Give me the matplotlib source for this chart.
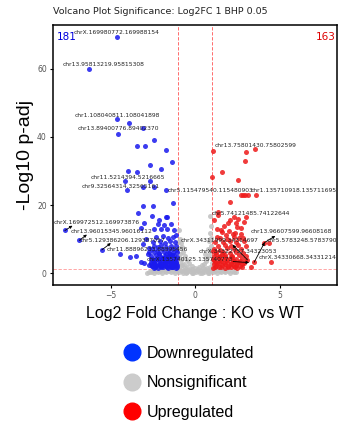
import numpy as np
import matplotlib
matplotlib.use("Agg")
import matplotlib.pyplot as plt
from matplotlib.lines import Line2D

# ---- data ----
blue_x = [-4.63, -6.30, -4.59, -3.88, -4.53, -3.09, -2.42, -3.45, -2.98, -1.71,
          -1.36, -2.64, -2.03, -3.96, -3.45, -4.16, -2.64, -4.00, -3.05, -2.45,
          -1.71, -1.32, -3.05, -2.46, -3.39, -2.52, -1.74, -1.65, -2.13, -2.99,
          -2.21, -1.85, -1.42, -3.19, -2.42, -2.03, -1.64, -1.26, -7.70, -6.85,
          -5.52, -4.43, -3.84, -3.51, -3.19, -3.10, -2.90, -2.75, -2.80, -2.60,
          -3.00, -2.70,
          -2.30, -1.90, -1.60, -1.30, -1.10,
          -2.50, -2.10, -1.80, -1.50, -1.20,
          -2.40, -2.00, -1.70, -1.45, -1.15, -2.20,
          -2.55, -2.25, -1.95, -1.60, -1.35, -1.10,
          -2.45, -2.15, -1.85, -1.55, -1.30, -1.05, -2.70,
          -2.60, -2.30, -2.00, -1.75, -1.50, -1.25, -1.05,
          -2.50, -2.20, -1.90, -1.65, -1.40, -1.15,
          -2.45, -2.15, -1.85, -1.60, -1.35, -1.10,
          -2.35, -2.05, -1.80, -1.55, -1.30, -1.05, -2.60,
          -2.30, -2.00, -1.70, -1.45, -1.20, -2.55,
          -2.20, -1.90, -1.60, -1.35, -1.10, -2.45,
          -2.05, -1.75, -1.40, -1.20, -1.95, -1.50,
          -2.35, -2.00, -1.65, -1.30, -1.08, -2.28, -1.88, -1.52, -1.18,
          -2.42, -2.10, -1.78, -1.42, -1.12, -2.38, -1.98, -1.68, -1.28,
          -2.25, -1.92, -1.58, -1.22, -2.15, -1.72, -1.38, -2.62, -2.52]
blue_y = [69.4, 59.9, 45.2, 44.2, 41.0, 42.5, 39.1, 37.5, 37.4, 36.1,
          32.6, 31.8, 30.7, 30.0, 29.6, 27.2, 27.2, 24.4, 25.2, 25.3,
          24.6, 20.7, 19.9, 19.9, 17.8, 16.8, 16.6, 16.5, 15.6, 14.9,
          14.5, 14.2, 14.5, 13.3, 12.9, 12.9, 12.9, 12.7, 12.6, 9.7,
          6.9, 5.6, 4.9, 5.1, 3.5, 8.6, 10.2, 7.5, 5.8, 4.2,
          3.0, 2.6,
          10.6, 11.1, 10.3, 10.8, 11.4,
          9.2, 9.5, 9.0, 9.4, 9.1,
          8.1, 8.3, 7.9, 8.2, 8.0, 7.7,
          7.1, 6.9, 7.3, 7.0, 7.2, 6.8,
          6.2, 6.0, 6.3, 6.1, 5.9, 6.2, 6.4,
          5.1, 5.3, 4.9, 5.2, 5.0, 5.3, 4.8,
          4.3, 4.1, 4.4, 4.2, 4.0, 4.3,
          3.5, 3.6, 3.4, 3.7, 3.5, 3.3,
          2.8, 2.9, 2.7, 3.0, 2.8, 2.6, 2.9,
          2.2, 2.3, 2.1, 2.2, 2.4, 2.1,
          1.7, 1.8, 1.6, 1.8, 1.7, 1.6,
          2.5, 3.1, 1.9, 3.9, 4.6, 5.6,
          1.95, 2.0, 1.9, 2.0, 1.95, 2.55, 2.5, 2.6, 2.45,
          3.2, 3.15, 3.25, 3.1, 3.0, 3.9, 3.95, 3.85, 3.8,
          4.65, 4.6, 4.7, 4.55, 5.6, 5.7, 5.5, 3.3, 2.2]

grey_x = [-2.70, -2.45, -2.20, -1.95, -1.70, -1.45, -1.20, -0.95, -0.70, -0.45,
          -0.20, 0.05, 0.30, 0.55, 0.80, 1.05, 1.30, 1.55, 1.80, 2.05,
          -2.55, -2.30, -2.05, -1.80, -1.55, -1.30, -1.05, -0.80, -0.55, -0.30,
          -0.05, 0.20, 0.45, 0.70, 0.95, 1.20, 1.45, 1.70, 1.95, 2.20,
          -2.40, -2.10, -1.85, -1.60, -1.35, -1.10, -0.90, -0.65, -0.40, -0.15,
          0.10, 0.35, 0.60, 0.85, 1.10, 1.35, 1.60, 1.85,
          -0.95, -0.90, -0.85, -0.92, -0.78, -0.70, -0.88, -0.60, -0.75, -0.50,
          -0.90, -0.35, -0.65, -0.20, -0.85, -0.45, 0.00, 0.25, 0.40, 0.55,
          0.65, 0.72, 0.80, 0.60, 0.88, 0.75, 0.92, 0.82, 0.95, 0.90,
          0.86, 0.70, 0.90, -0.60, 0.15, -0.25, 0.50, -0.98, 0.97, -0.80,
          -2.85, -2.60, 2.30, 2.45, -0.10, 0.40, -0.55, 0.75, -1.00, 1.00]
grey_y = [0.3, 0.2, 0.3, 0.2, 0.4, 0.3, 0.2, 0.3, 0.2, 0.3,
          0.2, 0.3, 0.2, 0.3, 0.2, 0.3, 0.2, 0.4, 0.3, 0.2,
          0.7, 0.8, 0.6, 0.7, 0.8, 0.7, 0.6, 0.7, 0.8, 0.7,
          0.6, 0.7, 0.8, 0.7, 0.6, 0.7, 0.8, 0.6, 0.7, 0.8,
          1.1, 1.0, 1.2, 1.1, 1.0, 1.2, 1.1, 1.0, 1.1, 1.2,
          1.0, 1.1, 1.2, 1.1, 1.0, 1.1, 1.2, 1.0,
          12.6, 10.1, 8.9, 7.5, 7.8, 6.4, 5.6, 5.1, 4.3, 3.9,
          3.4, 3.0, 2.7, 2.2, 2.1, 1.8, 1.7, 1.9, 2.4, 2.9,
          3.6, 4.4, 5.3, 5.8, 6.5, 7.3, 8.2, 9.4, 10.5, 12.0,
          16.9, 1.6, 1.9, 1.5, 1.4, 1.45, 1.5, 9.3, 14.0, 2.6,
          0.2, 0.5, 0.4, 0.3, 0.05, 0.05, 0.05, 0.05, 4.8, 3.2]

red_x = [1.08, 2.99, 3.54, 2.97, 1.61, 1.00, 2.52, 2.72, 2.85, 2.98,
         3.11, 3.62, 2.07, 1.36, 1.73, 1.93, 2.42, 2.46, 2.91, 1.53,
         1.28, 2.22, 2.72, 2.81, 3.50, 4.09, 4.39, 4.49, 3.10, 2.30,
         2.55, 1.15, 1.38, 2.08, 3.01,
         1.50, 1.90, 2.30, 2.60,
         1.20, 1.65, 2.05, 2.45, 2.90,
         1.35, 1.75, 2.15, 2.55, 3.00,
         1.10, 1.50, 1.90, 2.30, 2.70,
         1.25, 1.65, 2.05, 2.45, 2.85, 1.05,
         1.15, 1.45, 1.80, 2.20, 2.60, 3.00,
         1.05, 1.35, 1.70, 2.05, 2.40, 2.75,
         1.20, 1.55, 1.90, 2.25, 2.60, 2.95,
         1.10, 1.40, 1.75, 2.10, 2.45, 2.80,
         1.25, 1.60, 1.95, 2.30, 2.65,
         1.05, 1.40, 1.80, 2.15, 2.50, 3.30,
         1.60, 2.00, 2.35, 1.30, 1.85, 2.70,
         1.20, 1.55, 1.95, 2.35, 2.75, 1.30, 1.70, 2.10, 2.50, 2.88,
         1.12, 1.48, 1.88, 2.28, 2.68, 1.40, 1.78, 2.18, 1.22, 1.62]
red_y = [35.8, 35.6, 36.5, 32.9, 29.7, 28.3, 27.4, 23.0, 23.0, 23.0,
         23.0, 22.9, 21.0, 17.2, 13.9, 14.8, 14.7, 13.7, 15.2, 12.7,
         10.7, 11.7, 11.7, 10.3, 3.3, 9.0, 9.0, 3.3, 4.0, 16.5,
         16.0, 15.8, 18.1, 15.6, 16.6,
         10.5, 10.2, 10.8, 10.4,
         9.3, 9.1, 9.5, 9.2, 9.4,
         8.2, 8.4, 8.0, 8.3, 8.1,
         7.2, 7.0, 7.4, 7.1, 7.3,
         6.2, 6.4, 6.0, 6.3, 6.1, 6.5,
         5.2, 5.0, 5.4, 5.1, 5.3, 5.0,
         4.3, 4.5, 4.1, 4.4, 4.2, 4.4,
         3.5, 3.7, 3.4, 3.6, 3.3, 3.6,
         2.8, 3.0, 2.7, 2.9, 2.6, 2.9,
         2.2, 2.4, 2.1, 2.3, 2.2,
         1.7, 1.8, 1.6, 1.8, 1.7, 1.9,
         12.2, 12.5, 12.0, 13.0, 11.2, 13.2,
         1.95, 2.0, 1.9, 2.0, 1.95, 3.15, 3.2, 3.1, 3.0, 3.2,
         3.9, 3.95, 3.85, 3.8, 3.7, 4.8, 4.75, 4.7, 5.7, 5.65]

# gene labels: text, label centre x, label centre y
labels = ["chrX.169980772.169988154", "chr13.95813219.95815308",
          "chr1.108040811.108041898", "chr13.89400776.89402370",
          "chr11.5214394.5216665", "chr9.32564314.32565161",
          "chr5.115479540.115480903", "chr1.135710918.135711695",
          "chr13.75801430.75802599", "chr5.74121485.74122644",
          "chrX.169972512.169973876", "chr13.96015345.96016112",
          "chr5.129386206.129387057", "chr11.88896233.88898456",
          "chrX.135740125.135740773", "chrX.34311999.34314697",
          "chrX.34322757.34323053", "chr13.96607599.96608168",
          "chr5.5783248.5783790", "chrX.34330668.34331214"]
label_x = [-4.62, -5.42, -4.57, -4.51, -4.00, -4.39, 0.90, 5.85, 3.56, 3.28,
           -5.82, -4.93, -4.32, -2.80, -0.28, 1.44, 2.56, 5.67, 6.31, 6.06]
label_y = [70.7, 61.2, 46.4, 42.5, 28.2, 25.4, 24.2, 24.2, 37.6, 17.7,
           15.0, 12.4, 9.8, 6.9, 4.2, 9.6, 6.4, 12.3, 9.6, 4.6]

# segments from a point to its label
seg_from = [(-7.70, 12.6), (-6.85, 9.7), (-5.52, 6.9), (3.10, 4.0), (3.50, 3.3), (4.09, 9.0), (2.25, 3.5)]
seg_to = [(-7.25, 14.0), (-6.40, 11.4), (-4.98, 8.9), (2.22, 8.4), (4.12, 9.1), (4.75, 11.0), (3.20, 3.2)]

n_down, n_up = 181, 163

fig = plt.figure(figsize=(3.38, 4.25), dpi=100)
ax = fig.add_axes([0.157, 0.330, 0.840, 0.611])

ax.scatter(grey_x, grey_y, s=13, color="#c0c0c0", alpha=0.85, linewidths=0, zorder=2)
ax.scatter(blue_x, blue_y, s=13, color="#1a1aee", alpha=0.85, linewidths=0, zorder=3)
ax.scatter(red_x, red_y, s=13, color="#ee1a1a", alpha=0.85, linewidths=0, zorder=3)

for xv in (-1, 1):
    ax.axvline(xv, color="#ff5555", lw=0.6, ls=(0, (4, 2)), zorder=1)
ax.axhline(1.3, color="#ff5555", lw=0.6, ls=(0, (4, 2)), alpha=0.6, zorder=1)

for (x0, y0), (x1, y1) in zip(seg_from, seg_to):
    ax.annotate("", xy=(x1, y1), xytext=(x0, y0),
                arrowprops=dict(arrowstyle="-|>", lw=0.6, color="black",
                                mutation_scale=4, shrinkA=0, shrinkB=0), zorder=5)

for t, lx, ly in zip(labels, label_x, label_y):
    ax.text(lx, ly, t, fontsize=4.3, color="#222222", ha="center", va="center", zorder=6)

ax.text(0.012, 0.975, str(n_down), transform=ax.transAxes, color="#0000dd",
        fontsize=7.5, ha="left", va="top")
ax.text(0.995, 0.975, str(n_up), transform=ax.transAxes, color="#dd0000",
        fontsize=7.5, ha="right", va="top")

ax.set_xlim(-8.4, 8.4)
ax.set_ylim(-3.3, 72.8)
ax.set_xticks([-5, 0, 5])
ax.set_yticks([0, 20, 40, 60])
ax.tick_params(labelsize=5.5, labelcolor="#555555", length=2.5, width=0.8, pad=2)
for sp in ax.spines.values():
    sp.set_linewidth(1.1)

ax.set_xlabel("Log2 Fold Change : KO vs WT", fontsize=11.5, family="Liberation Sans", labelpad=4)
ax.set_ylabel("-Log10 p-adj", fontsize=14, family="Liberation Sans", labelpad=2)
fig.text(0.156, 0.972, "Volcano Plot Significance: Log2FC 1 BHP 0.05", fontsize=6.8,
         ha="left", va="center", color="#222222")

handles = [Line2D([], [], marker="o", ls="", markersize=12, color=c)
           for c in ("#0033ff", "#cccccc", "#ff0000")]
fig.legend(handles, ["Downregulated", "Nonsignificant", "Upregulated"],
           loc="upper left", bbox_to_anchor=(0.34, 0.205), frameon=False,
           prop={"family": "Liberation Sans", "size": 11.5},
           handletextpad=0.3, labelspacing=0.9, borderpad=0, handlelength=1.2)

fig.savefig("out.png", dpi=100)
